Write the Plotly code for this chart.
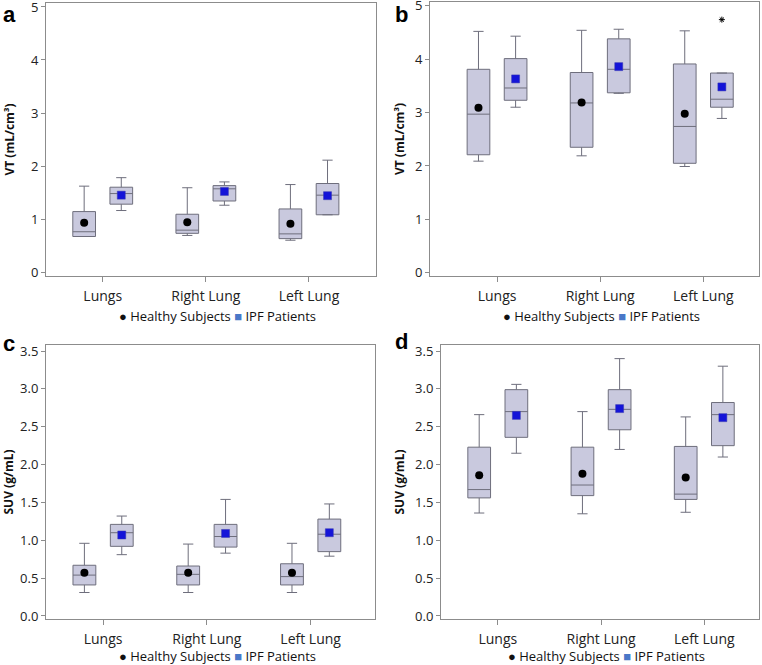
import numpy as np
import plotly.graph_objects as go

# === DATA ===
categories = ["Lungs", "Right Lung", "Left Lung"]

# panel a: VT, static scan
a_hs_low = [0.67, 0.69, 0.60]
a_hs_q1 = [0.67, 0.73, 0.63]
a_hs_med = [0.76, 0.79, 0.72]
a_hs_q3 = [1.14, 1.09, 1.19]
a_hs_high = [1.62, 1.59, 1.65]
a_hs_mean = [0.93, 0.94, 0.91]
a_ipf_low = [1.16, 1.26, 1.08]
a_ipf_q1 = [1.28, 1.34, 1.08]
a_ipf_med = [1.48, 1.57, 1.45]
a_ipf_q3 = [1.60, 1.63, 1.67]
a_ipf_high = [1.78, 1.70, 2.11]
a_ipf_mean = [1.45, 1.52, 1.44]

# panel b: VT, dynamic scan
b_hs_low = [2.09, 2.19, 1.99]
b_hs_q1 = [2.21, 2.35, 2.05]
b_hs_med = [2.97, 3.18, 2.74]
b_hs_q3 = [3.81, 3.75, 3.91]
b_hs_high = [4.52, 4.54, 4.53]
b_hs_mean = [3.09, 3.19, 2.98]
b_ipf_low = [3.10, 3.36, 2.89]
b_ipf_q1 = [3.23, 3.37, 3.10]
b_ipf_med = [3.46, 3.81, 3.25]
b_ipf_q3 = [4.01, 4.38, 3.74]
b_ipf_high = [4.43, 4.56, 3.74]
b_ipf_mean = [3.63, 3.86, 3.48]
b_outlier_cat = 2
b_outlier_val = 4.74

# panel c: SUV, static scan
c_hs_low = [0.31, 0.31, 0.31]
c_hs_q1 = [0.41, 0.41, 0.41]
c_hs_med = [0.54, 0.55, 0.52]
c_hs_q3 = [0.67, 0.66, 0.69]
c_hs_high = [0.96, 0.95, 0.96]
c_hs_mean = [0.57, 0.57, 0.57]
c_ipf_low = [0.81, 0.83, 0.79]
c_ipf_q1 = [0.92, 0.91, 0.85]
c_ipf_med = [1.10, 1.05, 1.08]
c_ipf_q3 = [1.21, 1.21, 1.28]
c_ipf_high = [1.32, 1.54, 1.48]
c_ipf_mean = [1.07, 1.09, 1.10]

# panel d: SUV, dynamic scan
d_hs_low = [1.36, 1.35, 1.37]
d_hs_q1 = [1.56, 1.59, 1.54]
d_hs_med = [1.67, 1.73, 1.61]
d_hs_q3 = [2.23, 2.23, 2.24]
d_hs_high = [2.66, 2.70, 2.63]
d_hs_mean = [1.86, 1.88, 1.83]
d_ipf_low = [2.15, 2.20, 2.10]
d_ipf_q1 = [2.36, 2.46, 2.25]
d_ipf_med = [2.70, 2.73, 2.66]
d_ipf_q3 = [2.99, 2.99, 2.82]
d_ipf_high = [3.06, 3.40, 3.30]
d_ipf_mean = [2.65, 2.74, 2.62]

# === STYLE ===
W, H = 762, 665
FONT = "Open Sans"
BOX_FILL = "#c9c9de"
BOX_LINE = "#6e6e7c"
AXIS_LINE = "#8c8c8c"
OFFSET = 0.18
BOX_W = 0.22

# panel pixel boxes: (left, right, top, bottom), x range, y range,
# letter position (center x, top y), y title standoff, legend shift
panels = [
    dict(key="a", px=(46, 376, 3, 276), xr=[-0.55, 2.65], yr=[-0.075, 5.075],
         ytitle="VT (mL/cm³)", dtick=1, fmt="d", letter=(9, 0), standoff=13, leg=-40),
    dict(key="b", px=(430, 759, 2, 276), xr=[-0.65, 2.54], yr=[-0.06, 5.07],
         ytitle="VT (mL/cm³)", dtick=1, fmt="d", letter=(401, 0), standoff=7, leg=-40),
    dict(key="c", px=(46, 375, 345, 619), xr=[-0.55, 2.62], yr=[-0.04, 3.58],
         ytitle="SUV (g/mL)", dtick=0.5, fmt=".1f", letter=(9, 329), standoff=9, leg=-37),
    dict(key="d", px=(441, 759, 345, 619), xr=[-0.55, 2.53], yr=[-0.04, 3.58],
         ytitle="SUV (g/mL)", dtick=0.5, fmt=".1f", letter=(401, 327), standoff=7, leg=-37),
]

data = {
    "a": (a_hs_low, a_hs_q1, a_hs_med, a_hs_q3, a_hs_high, a_hs_mean,
          a_ipf_low, a_ipf_q1, a_ipf_med, a_ipf_q3, a_ipf_high, a_ipf_mean),
    "b": (b_hs_low, b_hs_q1, b_hs_med, b_hs_q3, b_hs_high, b_hs_mean,
          b_ipf_low, b_ipf_q1, b_ipf_med, b_ipf_q3, b_ipf_high, b_ipf_mean),
    "c": (c_hs_low, c_hs_q1, c_hs_med, c_hs_q3, c_hs_high, c_hs_mean,
          c_ipf_low, c_ipf_q1, c_ipf_med, c_ipf_q3, c_ipf_high, c_ipf_mean),
    "d": (d_hs_low, d_hs_q1, d_hs_med, d_hs_q3, d_hs_high, d_hs_mean,
          d_ipf_low, d_ipf_q1, d_ipf_med, d_ipf_q3, d_ipf_high, d_ipf_mean),
}

cat_idx = np.arange(len(categories))
fig = go.Figure()
layout = {}
annotations = []

for i, p in enumerate(panels):
    n = "" if i == 0 else str(i + 1)
    xa, ya = "x" + n, "y" + n
    l, r, t, b = p["px"]
    (hs_lo, hs_q1, hs_md, hs_q3, hs_hi, hs_mn,
     ip_lo, ip_q1, ip_md, ip_q3, ip_hi, ip_mn) = data[p["key"]]

    for pos, lo, q1, md, q3, hi in [
        (cat_idx - OFFSET, hs_lo, hs_q1, hs_md, hs_q3, hs_hi),
        (cat_idx + OFFSET, ip_lo, ip_q1, ip_md, ip_q3, ip_hi),
    ]:
        fig.add_trace(go.Box(
            x=pos, lowerfence=lo, q1=q1, median=md, q3=q3, upperfence=hi,
            width=BOX_W, whiskerwidth=0.45, fillcolor=BOX_FILL,
            line=dict(color=BOX_LINE, width=1), boxpoints=False,
            showlegend=False, hoverinfo="skip", xaxis=xa, yaxis=ya))

    # means
    fig.add_trace(go.Scatter(
        x=cat_idx - OFFSET, y=hs_mn, mode="markers",
        marker=dict(symbol="circle", size=8, color="black"),
        name="Healthy Subjects", showlegend=False, xaxis=xa, yaxis=ya))
    fig.add_trace(go.Scatter(
        x=cat_idx + OFFSET, y=ip_mn, mode="markers",
        marker=dict(symbol="square", size=8, color="#1414d8",
                    line=dict(color="#3a3ab0", width=0.5)),
        name="IPF Patients", showlegend=False, xaxis=xa, yaxis=ya))

    if p["key"] == "b":
        fig.add_trace(go.Scatter(
            x=[cat_idx[b_outlier_cat] + OFFSET], y=[b_outlier_val], mode="markers",
            marker=dict(symbol="asterisk-open", size=5, color="black",
                        line=dict(color="black", width=1)),
            showlegend=False, xaxis=xa, yaxis=ya))

    layout["xaxis" + n] = dict(
        domain=[l / W, r / W], range=p["xr"], anchor=ya, automargin=False,
        tickmode="array", tickvals=cat_idx, ticktext=categories,
        ticks="outside", ticklen=5, tickcolor=AXIS_LINE, ticklabelstandoff=2,
        showline=True, mirror=True, linecolor=AXIS_LINE, linewidth=1,
        showgrid=False, zeroline=False,
        tickfont=dict(family=FONT, size=14, color="#222"))
    layout["yaxis" + n] = dict(
        domain=[1 - b / H, 1 - t / H], range=p["yr"], anchor=xa, automargin=False,
        dtick=p["dtick"], tick0=0, tickformat=p["fmt"], ticklabeloverflow="allow",
        ticks="outside", ticklen=4, tickcolor=AXIS_LINE,
        showline=True, mirror=True, linecolor=AXIS_LINE, linewidth=1,
        showgrid=False, zeroline=False,
        tickfont=dict(family=FONT, size=13, color="#222"),
        title=dict(text="<b>" + p["ytitle"] + "</b>",
                   font=dict(family=FONT, size=12, color="#111"),
                   standoff=p["standoff"]))

    # panel letter
    lx, ly = p["letter"]
    annotations.append(dict(
        text="<b>" + p["key"] + "</b>", xref="paper", yref="paper",
        x=lx / W, y=1 - ly / H, xanchor="center", yanchor="top",
        showarrow=False, font=dict(family="Liberation Sans", size=22, color="black")))
    # legend line below each panel
    annotations.append(dict(
        text="● Healthy Subjects <span style='color:#4a78c8'>■</span> IPF Patients",
        xref=xa + " domain", yref=ya + " domain", x=0.52, y=0,
        yshift=p["leg"], xanchor="center", yanchor="middle", showarrow=False,
        font=dict(family=FONT, size=13, color="#111")))

fig.update_layout(
    width=W, height=H, margin=dict(l=0, r=0, t=0, b=0),
    paper_bgcolor="white", plot_bgcolor="white",
    annotations=annotations, **layout)

# page body has an 8px default margin; drop it so the figure fills the window
fig.write_html("out.html", config={"displayModeBar": False},
               post_script="document.body.style.margin='0';")
